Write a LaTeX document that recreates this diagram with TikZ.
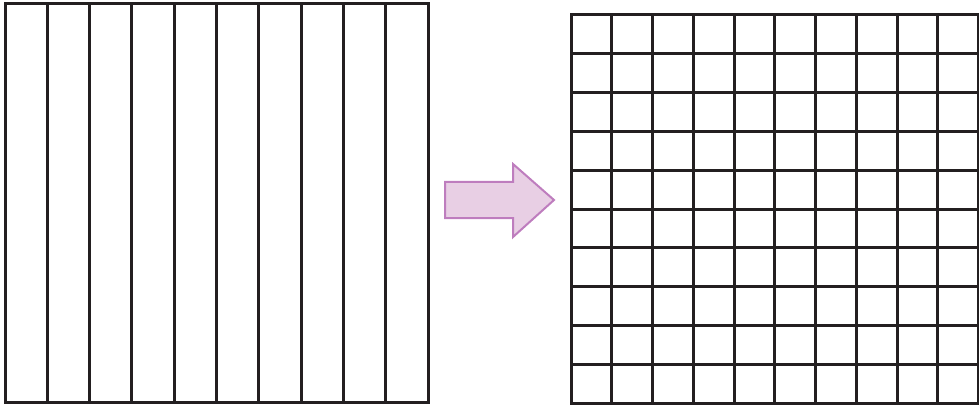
\documentclass[tikz,border=0pt]{standalone}
\usepackage{tikz}
\usetikzlibrary{calc}
\definecolor{gridline}  {RGB}{ 35,  31,  32}
\definecolor{arrowfill} {RGB}{232, 207, 228}
\definecolor{arrowedge} {RGB}{190, 125, 190}

\begin{document}
\begin{tikzpicture}[x=1pt,y=-1pt,
	gridpen/.style={line width=3pt,draw=gridline},
	arrowpen/.style={line width=2pt,draw=arrowedge,fill=arrowfill,line join=miter}]
	\useasboundingbox (0,0) rectangle (979,406);
	% strips
	\draw[gridpen] (5,4) rectangle (428,402);
	\foreach \i in {1,...,9}
		\draw[gridpen] ({5+\i*42.3},4)--({5+\i*42.3},402);
	% arrow
	\draw[arrowpen] (445,182)--(513,182)--(513,164)--(554,200)--(513,237)--(513,218)--(445,218)--cycle;
	% squares
	\draw[gridpen] (571,15) rectangle (978.5,403);
	\foreach \i in {1,...,9}
		\draw[gridpen] ({571+\i*40.75},15)--({571+\i*40.75},403);
	\foreach \j in {1,...,9}
		\draw[gridpen] (571,{15+\j*38.8})--(978.5,{15+\j*38.8});
\end{tikzpicture}
\end{document}
